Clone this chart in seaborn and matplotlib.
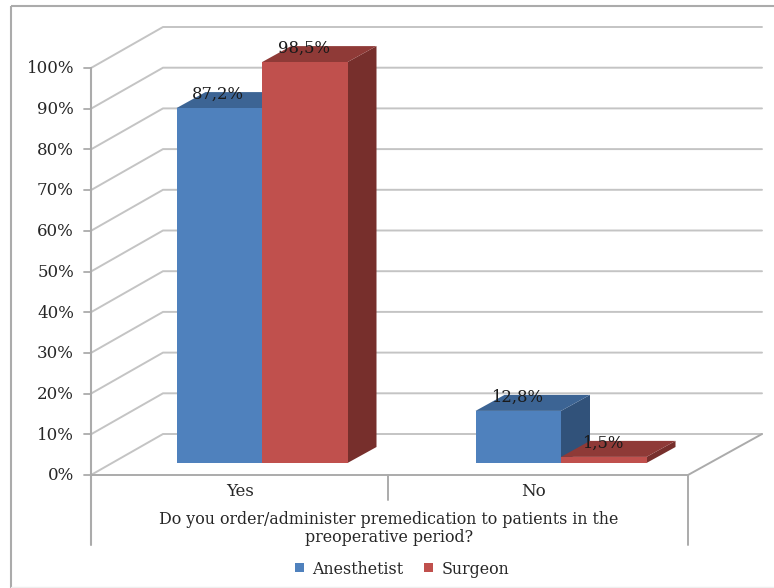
import matplotlib
matplotlib.use("Agg")
import matplotlib.pyplot as plt
import pandas as pd
import seaborn as sns
from matplotlib.patches import Polygon

# Survey results, percent of respondents in each group
answers = ["Yes", "No"]
groups = ["Anesthetist", "Surgeon"]
anesthetist = [87.2, 12.8]
surgeon = [98.5, 1.5]
value_labels = {"Anesthetist": ["87,2%", "12,8%"], "Surgeon": ["98,5%", "1,5%"]}
percent_ticks = list(range(0, 101, 10))
axis_title = "Do you order/administer premedication to patients in the\npreoperative period?"

front_colors = {"Anesthetist": "#4F81BD", "Surgeon": "#C0504D"}
top_colors = {"Anesthetist": "#3C6494", "Surgeon": "#8F3A37"}
side_colors = {"Anesthetist": "#31527A", "Surgeon": "#772F2C"}
GRID = "#C4C4C4"
AXIS = "#ABABAB"
INK = "#262626"
FONT = "DejaVu Serif"

W, H = 774, 588
CAT_PX = 299.0      # pixels between category centres
PCT_PX = 4.07       # pixels per percentage point
CAT0_PX = 262.0     # pixel column of the first category centre
BASE_PX = 463.0     # pixel row of the bars' zero line
DEPTH_X = 29.0      # oblique offset of the bars' rear faces
DEPTH_Y = 16.0


def xd(px):
    return (px - CAT0_PX) / CAT_PX


def yd(py):
    return (BASE_PX - py) / PCT_PX


sns.set_theme(style="white")
fig = plt.figure(figsize=(W / 100, H / 100), dpi=100, facecolor="white")
ax = fig.add_axes([0, 0, 1, 1])

table = pd.DataFrame({
    "answer": answers * 2,
    "group": [groups[0]] * 2 + [groups[1]] * 2,
    "percent": anesthetist + surgeon,
})
sns.barplot(data=table, x="answer", y="percent", hue="group", order=answers,
            hue_order=groups, palette=front_colors, width=171 / CAT_PX,
            saturation=1, gap=0, errorbar=None, ax=ax, linewidth=0)
ax.set_xlim(xd(0), xd(W))
ax.set_ylim(yd(H), yd(0))
ax.set_axis_off()

# Outer chart frame: open on the right, with a faint lower edge
frame = dict(color=AXIS, lw=1.5, zorder=1, solid_capstyle="butt")
ax.plot([xd(11), xd(11)], [yd(6), yd(H)], **frame)
ax.plot([xd(11), xd(W)], [yd(6), yd(6)], **frame)
ax.plot([xd(11), xd(W)], [yd(587), yd(587)], color="#EFEFEF", lw=1, zorder=1)

# Gridlines: a diagonal across the side wall, then a run along the back wall
floor_front = yd(475)
for t in percent_ticks:
    y0 = floor_front + t
    y1 = y0 + 41 / PCT_PX
    ax.plot([xd(91), xd(163), xd(762)], [y0, y1, y1], color=GRID, lw=1.4, zorder=1,
            solid_joinstyle="miter")
    ax.plot([xd(84), xd(91)], [y0, y0], color=AXIS, lw=1.3, zorder=1)
    ax.text(xd(74), y0 - 0.8 / PCT_PX, f"{t}%", ha="right", va="center", family=FONT,
            fontsize=12, color=INK)

# Floor edges and axis lines
ax.plot([xd(91), xd(688), xd(762)], [floor_front, floor_front, floor_front + 41 / PCT_PX],
        color=AXIS, lw=1.4, zorder=1.5)
ax.plot([xd(91), xd(91)], [yd(545), floor_front + 100], color=AXIS, lw=1.5, zorder=1.5)
ax.plot([xd(688), xd(688)], [yd(545), floor_front], color=AXIS, lw=1.4, zorder=1.5)
ax.plot([xd(388), xd(388)], [yd(500), floor_front], color=AXIS, lw=1.4, zorder=1.5)

# Rear faces of each bar, layered so every series overlaps the one on its left
dx = DEPTH_X / CAT_PX
dy = DEPTH_Y / PCT_PX
for i, (group, bars) in enumerate(zip(groups, ax.containers)):
    for bar, label in zip(bars, value_labels[group]):
        x0, x1 = bar.get_x(), bar.get_x() + bar.get_width()
        top = bar.get_height()
        bar.set_zorder(3 + 2 * i)
        ax.add_patch(Polygon([(x1, 0), (x1 + dx, dy), (x1 + dx, top + dy), (x1, top)],
                             facecolor=side_colors[group], edgecolor="none", zorder=2 + 2 * i))
        ax.add_patch(Polygon([(x0, top), (x1, top), (x1 + dx, top + dy), (x0 + dx, top + dy)],
                             facecolor=top_colors[group], edgecolor="none", zorder=2 + 2 * i))
        ax.text((x0 + x1) / 2 - 1 / CAT_PX, top + 14 / PCT_PX, label, ha="center", va="center",
                family=FONT, fontsize=11.8, color="#1A1A1A", zorder=9)

# Category labels sit under the floor, centred in their own divisions
for label, centre in zip(answers, [240, 533]):
    ax.text(xd(centre), yd(492), label, ha="center", va="center", family=FONT,
            fontsize=12, color=INK)
ax.text(xd(389), yd(528.3), axis_title, ha="center", va="center", family=FONT,
        fontsize=11.4, color=INK, linespacing=1.05)

sns.move_legend(ax, "center", bbox_to_anchor=(402 / W, 1 - 569 / H), ncols=2, frameon=False,
                title=None, handlelength=0.55, handleheight=0.5,
                handletextpad=0.55, columnspacing=1.3,
                prop={"family": FONT, "size": 11.4})
for text in ax.get_legend().get_texts():
    text.set_color(INK)

fig.savefig("out.png", dpi=100, facecolor="white")
